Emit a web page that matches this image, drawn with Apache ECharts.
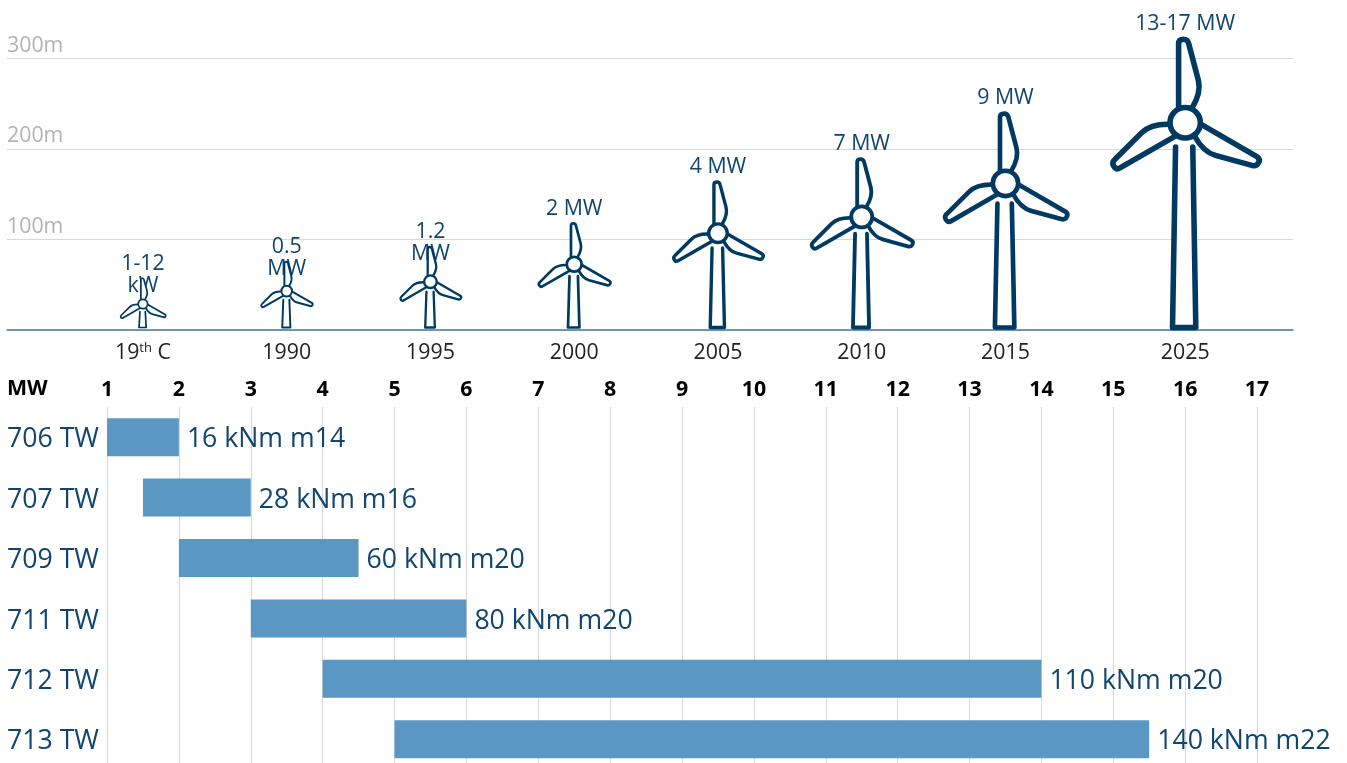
<!DOCTYPE html>
<html>
<head>
    <meta charset="utf-8">
    <title>Wind turbine growth</title>
    <script src="https://cdn.jsdelivr.net/npm/echarts@6/dist/echarts.min.js"></script>
    <style>
        html, body { margin: 0; padding: 0; background: #fff; overflow: hidden; }
    </style>
</head>
<body>
    <div id="main" style="width: 1347px;height:763px;"></div>
    <script type="text/javascript">
        // turbines: position on the MW scale, hub height (m), rotor radius (m)
        var years = ['19th C', '1990', '1995', '2000', '2005', '2010', '2015', '2025'];
        var turbinePos = [1.5, 3.5, 5.5, 7.5, 9.5, 11.5, 13.5, 16];
        var hubHeights = [28.7, 43, 53.4, 72.6, 107, 125, 162, 229];
        var rotorRadius = [29, 33, 39, 46, 57.5, 65, 78.5, 94];
        var powerLabels = ['1-12\nkW', '0.5\nMW', '1.2\nMW', '2 MW', '4 MW', '7 MW', '9 MW', '13-17 MW'];

        // gearbox rows
        var models = ['706 TW', '707 TW', '709 TW', '711 TW', '712 TW', '713 TW'];
        var rangeStart = [1, 1.5, 2, 3, 4, 5];
        var rangeEnd = [2, 3, 4.5, 6, 14, 15.5];
        var torqueLabels = ['16 kNm m14', '28 kNm m16', '60 kNm m20', '80 kNm m20', '110 kNm m20', '140 kNm m22'];

        var DARK = '#003a63';
        var TEXT = '#0f4570';
        var FONT = '"Open Sans"';

        // icon is drawn at the size of the 2025 rotor, blade tip at 84px from the hub
        var ICON_R = 84;
        var BLADE = 'M-6.5,-14 L-6.5,-78 Q-6.5,-82.5 -1.5,-82.5 Q2.5,-82.5 3.5,-78 L13,-42 Q16,-30 7,-15';

        function renderTurbine(params, api) {
            var hub = api.coord([api.value(0), api.value(1)]);
            var ground = api.coord([api.value(0), 0]);
            var r = api.size([0, api.value(2)])[1];
            var s = r / ICON_R;
            var bottom = (ground[1] - hub[1] - 2.5) / s;
            var line = { fill: '#fff', stroke: DARK, lineWidth: 5.5, lineCap: 'round', lineJoin: 'round' };
            var blades = [0, 1, 2].map(function (i) {
                return {
                    type: 'path',
                    rotation: i * Math.PI * 2 / 3,
                    shape: { pathData: BLADE },
                    style: line
                };
            });
            return {
                type: 'group',
                children: [{
                    type: 'text',
                    style: {
                        text: powerLabels[params.dataIndex],
                        x: hub[0],
                        y: hub[1] - r - 25,
                        align: 'center',
                        verticalAlign: 'top',
                        fill: TEXT,
                        font: '21.33px ' + FONT,
                        lineHeight: 22
                    }
                }, {
                    type: 'group',
                    x: hub[0],
                    y: hub[1],
                    scaleX: s,
                    scaleY: s,
                    children: [{
                        type: 'path',
                        shape: { pathData: 'M-9.5,24 L-12.5,' + bottom + ' L10.5,' + bottom + ' L7.5,24' },
                        style: line
                    }].concat(blades).concat([{
                        type: 'circle',
                        shape: { cx: 0, cy: 0, r: 15 },
                        style: line
                    }])
                }]
            };
        }

        var myChart = echarts.init(document.getElementById('main'), null, { renderer: 'canvas' });
        myChart.setOption({
            animation: false,
            textStyle: { fontFamily: FONT },
            grid: [
                { left: 7, width: 1286, top: 58.5, height: 271.5, outerBoundsMode: 'none' },
                { left: 107, width: 1150, top: 407, height: 362.4, outerBoundsMode: 'none' }
            ],
            // MW heading of the lower axis
            graphic: [{
                type: 'text',
                x: 7,
                y: 389,
                style: {
                    text: 'MW',
                    fill: '#000',
                    font: 'bold 21.33px ' + FONT,
                    verticalAlign: 'middle'
                }
            }],
            xAxis: [{
                // same MW scale as the lower panel, stretched out to the gridline ends
                type: 'value',
                gridIndex: 0,
                min: -0.391,
                max: 17.5,
                splitLine: { show: false },
                axisTick: { show: false },
                axisLine: { show: true, onZero: false, lineStyle: { color: '#4a7a9c', width: 1.5 } },
                axisLabel: {
                    customValues: turbinePos,
                    margin: 12,
                    color: '#222',
                    fontSize: 21.33,
                    formatter: function (v) {
                        var name = years[turbinePos.indexOf(v)];
                        return name === '19th C' ? '{n|19}{s|th}{n| C}' : name;
                    },
                    rich: {
                        n: { fontSize: 21.33, color: '#222' },
                        s: { fontSize: 13, color: '#222', verticalAlign: 'top', padding: [0, 0, 6, 0] }
                    }
                }
            }, {
                type: 'value',
                gridIndex: 1,
                position: 'top',
                min: 1,
                max: 17,
                interval: 1,
                axisLine: { show: false },
                axisTick: { show: false },
                splitLine: { lineStyle: { color: '#d9d9d9', width: 1 } },
                axisLabel: { color: '#000', fontWeight: 'bold', fontSize: 21.33, margin: 7 }
            }],
            yAxis: [{
                type: 'value',
                gridIndex: 0,
                min: 0,
                max: 300,
                interval: 100,
                axisLine: { show: false },
                axisTick: { show: false },
                splitLine: { lineStyle: { color: '#d9d9d9', width: 1 } },
                axisLabel: {
                    inside: true,
                    margin: 0,
                    align: 'left',
                    verticalAlign: 'bottom',
                    padding: [0, 0, 2.5, 0],
                    color: '#b3b3b3',
                    fontSize: 21.33,
                    formatter: function (v) { return v === 0 ? '' : v + 'm'; }
                }
            }, {
                type: 'category',
                gridIndex: 1,
                inverse: true,
                data: models,
                axisLine: { show: false },
                axisTick: { show: false },
                // bottom anchored with a negative pad: middle anchoring ignores padding
                axisLabel: { color: TEXT, fontSize: 26.67, margin: 100, align: 'left', verticalAlign: 'bottom', padding: [0, 0, -16, 0] }
            }],
            series: [{
                type: 'custom',
                xAxisIndex: 0,
                yAxisIndex: 0,
                clip: false,
                z: 3,
                renderItem: renderTurbine,
                data: turbinePos.map(function (p, i) { return [p, hubHeights[i], rotorRadius[i]]; })
            }, {
                type: 'bar',
                xAxisIndex: 1,
                yAxisIndex: 1,
                stack: 'range',
                barWidth: 38,
                silent: true,
                itemStyle: { color: 'transparent' },
                data: rangeStart
            }, {
                type: 'bar',
                xAxisIndex: 1,
                yAxisIndex: 1,
                stack: 'range',
                barWidth: 38,
                itemStyle: { color: '#5b97c3' },
                label: {
                    show: true,
                    position: 'right',
                    distance: 8,
                    offset: [0, 2.5],
                    color: TEXT,
                    fontSize: 26.67,
                    formatter: function (p) { return torqueLabels[p.dataIndex]; }
                },
                data: rangeEnd.map(function (e, i) { return e - rangeStart[i]; })
            }]
        });
    </script>
</body>
</html>
